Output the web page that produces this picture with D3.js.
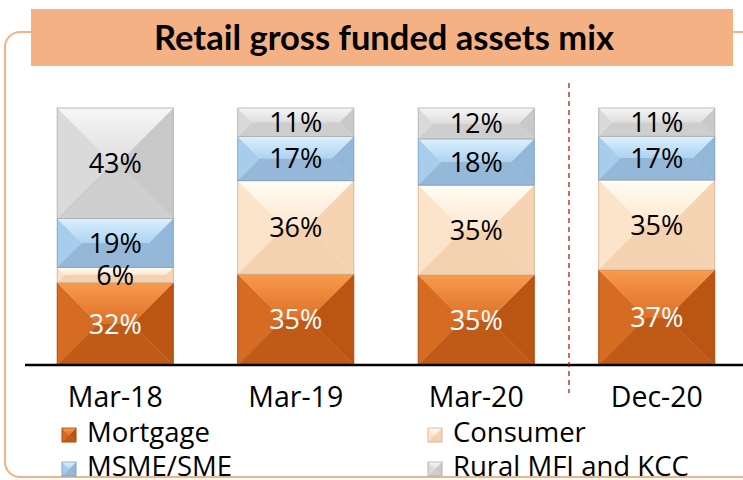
<!DOCTYPE html>
<html>
<head>
<meta charset="utf-8">
<script src="https://cdn.jsdelivr.net/npm/d3@7"></script>
<style>
  html, body { margin: 0; padding: 0; background: #ffffff; }
  svg { display: block; }
</style>
</head>
<body>
<svg id="chart" width="743" height="480"></svg>
<script>
// ---- data ----
const categories = ["Mar-18", "Mar-19", "Mar-20", "Dec-20"];
const seriesNames = ["Mortgage", "Consumer", "MSME/SME", "Rural MFI and KCC"];
const mortgage = [32, 35, 35, 37];
const consumer = [6, 36, 35, 35];
const msme = [19, 17, 18, 17];
const rural = [43, 11, 12, 11];
const title = "Retail gross funded assets mix";

// ---- styling ----
const palettes = {
  "Mortgage":          { id: "mort", topA: "#F99A4C", topB: "#DC7027", left: "#D66B22", center: "#D0661F", right: "#BB5513", bottom: "#C05A17", stroke: "#A4480E", label: "#ffffff" },
  "Consumer":          { id: "cons", topA: "#FFFDF4", topB: "#FDE7CF", left: "#FCE4CB", center: "#FBDEC1", right: "#F6D3B2", bottom: "#F4D2B0", stroke: "#D6B290", label: "#000000" },
  "MSME/SME":          { id: "msme", topA: "#DAF1FF", topB: "#AED2F0", left: "#A8CCEC", center: "#A2C6E8", right: "#93B7D9", bottom: "#95B8D8", stroke: "#7E9FC0", label: "#000000" },
  "Rural MFI and KCC": { id: "rural", topA: "#F6F6F6", topB: "#DEDEDE", left: "#DADADA", center: "#D8D8D8", right: "#C9C9C9", bottom: "#CECECE", stroke: "#ADADAD", label: "#000000" }
};

const table = categories.map((c, i) => ({
  category: c,
  "Mortgage": mortgage[i],
  "Consumer": consumer[i],
  "MSME/SME": msme[i],
  "Rural MFI and KCC": rural[i]
}));

const svg = d3.select("#chart");
const defs = svg.append("defs");
Object.values(palettes).forEach(p => {
  const lg = defs.append("linearGradient").attr("id", "top-" + p.id)
    .attr("x1", 0).attr("y1", 0).attr("x2", 0).attr("y2", 1);
  lg.append("stop").attr("offset", "0%").attr("stop-color", p.topA);
  lg.append("stop").attr("offset", "100%").attr("stop-color", p.topB);
});

// outer rounded frame
svg.append("rect")
  .attr("x", 5).attr("y", 32).attr("width", 800).attr("height", 445)
  .attr("rx", 15).attr("ry", 15)
  .attr("fill", "none").attr("stroke", "#F4B183").attr("stroke-width", 2);

// title box
svg.append("rect")
  .attr("x", 31).attr("y", 9).attr("width", 702).attr("height", 57)
  .attr("fill", "#F4B183");
svg.append("text")
  .attr("x", 384).attr("y", 50)
  .attr("text-anchor", "middle")
  .attr("font-family", "Lato, 'Open Sans', sans-serif")
  .attr("font-weight", "bold")
  .attr("font-size", 34.5)
  .attr("fill", "#000")
  .text(title);

// scales
const x = d3.scaleBand().domain(categories).range([25, 747]).paddingInner(0.357).paddingOuter(0.1785);
const y = d3.scaleLinear().domain([0, 1]).range([365, 108]);

const stack = d3.stack().keys(seriesNames).offset(d3.stackOffsetExpand);
const stacked = stack(table);

function bevel(g, x0, y0, w, h, pal) {
  const d = Math.max(0, Math.min(h / 2, w / 2));
  const x1 = x0 + w, y1 = y0 + h;
  const poly = (pts, fill) => g.append("polygon")
    .attr("points", pts.map(p => p.join(",")).join(" "))
    .attr("fill", fill).attr("stroke", fill).attr("stroke-width", 0.4);
  poly([[x0 + d, y0 + d], [x1 - d, y0 + d], [x1 - d, y1 - d], [x0 + d, y1 - d]], pal.center);
  poly([[x0, y0], [x0 + d, y0 + d], [x0 + d, y1 - d], [x0, y1]], pal.left);
  poly([[x1, y0], [x1, y1], [x1 - d, y1 - d], [x1 - d, y0 + d]], pal.right);
  poly([[x0, y1], [x0 + d, y1 - d], [x1 - d, y1 - d], [x1, y1]], pal.bottom);
  g.append("polygon")
    .attr("points", [[x0, y0], [x1, y0], [x1 - d, y0 + d], [x0 + d, y0 + d]].map(p => p.join(",")).join(" "))
    .attr("fill", "url(#top-" + pal.id + ")");
  g.append("rect").attr("x", x0).attr("y", y0).attr("width", w).attr("height", h)
    .attr("fill", "none").attr("stroke", pal.stroke).attr("stroke-width", 0.8);
}

const barsG = svg.append("g");
stacked.forEach(layer => {
  const pal = palettes[layer.key];
  layer.forEach((seg, i) => {
    const cat = categories[i];
    const bx = x(cat), bw = x.bandwidth();
    const yTop = y(seg[1]), yBot = y(seg[0]);
    bevel(barsG.append("g"), bx, yTop, bw, yBot - yTop, pal);
  });
});

// labels
stacked.forEach(layer => {
  const pal = palettes[layer.key];
  layer.forEach((seg, i) => {
    const cat = categories[i];
    const val = table[i][layer.key];
    svg.append("text")
      .attr("x", x(cat) + x.bandwidth() / 2)
      .attr("y", (y(seg[0]) + y(seg[1])) / 2)
      .attr("dy", "0.36em")
      .attr("text-anchor", "middle")
      .attr("font-family", "'Open Sans', sans-serif")
      .attr("font-size", 27)
      .attr("fill", pal.label)
      .text(val + "%");
  });
});

// axis baseline
svg.append("line").attr("x1", 25).attr("x2", 743).attr("y1", 365).attr("y2", 365)
  .attr("stroke", "#000").attr("stroke-width", 2.5);

// dashed divider
svg.append("line").attr("x1", 569).attr("x2", 569).attr("y1", 83).attr("y2", 393)
  .attr("stroke", "#C00000").attr("stroke-width", 1.2).attr("stroke-dasharray", "5,4");

// category axis
const xAxis = d3.axisBottom(x).tickSize(0).tickPadding(0);
const axG = svg.append("g").attr("transform", "translate(0,365)").call(xAxis);
axG.select(".domain").remove();
axG.selectAll("text")
  .attr("y", 42).attr("dy", 0)
  .attr("font-family", "'Open Sans', sans-serif")
  .attr("font-size", 28.5)
  .attr("fill", "#000");

// legend
const legendPos = [
  { x: 62, y: 428 }, { x: 428, y: 428 },
  { x: 62, y: 462 }, { x: 428, y: 462 }
];
seriesNames.forEach((name, i) => {
  const p = legendPos[i];
  bevel(svg.append("g"), p.x, p.y, 14, 14, palettes[name]);
  svg.append("text")
    .attr("x", p.x + 25).attr("y", p.y + 14)
    .attr("font-family", "'Open Sans', sans-serif")
    .attr("font-size", 27.5)
    .attr("fill", "#000")
    .text(name);
});
</script>
</body>
</html>
